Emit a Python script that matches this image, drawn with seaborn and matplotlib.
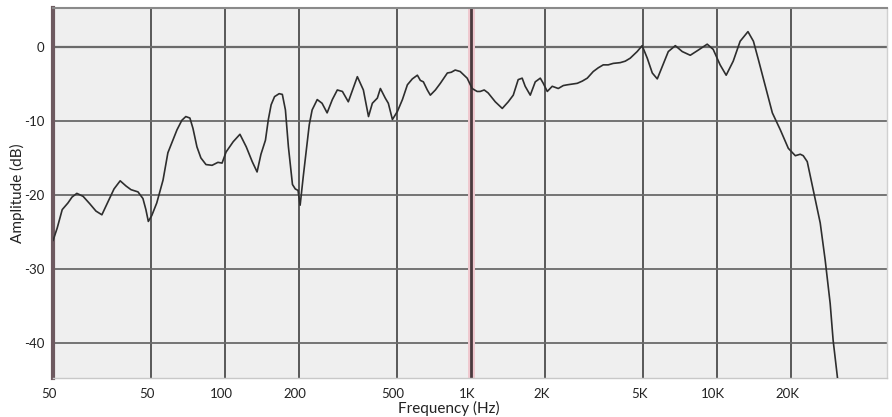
import numpy as np
import pandas as pd
import matplotlib
matplotlib.use("Agg")
import matplotlib.pyplot as plt
import matplotlib.transforms as mtransforms
import seaborn as sns

# Measured frequency response: frequency (Hz) and amplitude (dB)
freq_hz = [
    20.0, 20.8, 21.8, 23.0, 23.9, 25.0, 26.5, 28.2, 29.9, 31.6, 33.4, 35.4,
    37.5, 39.6, 41.5, 44.3, 46.4, 47.7, 48.8, 50.4, 52.8, 56.0, 58.6, 61.4,
    63.8, 66.8, 69.3, 72.0, 74.1, 76.9, 79.8, 83.7, 88.6, 93.6, 97.3, 101,
    108, 115, 122, 129, 135, 140, 146, 150, 154, 159, 166, 171, 176, 181,
    188, 193, 198, 202, 208, 214, 220, 226, 237, 248, 260, 273, 286, 300,
    317, 345, 365, 383, 397, 416, 428, 448, 461, 479, 502, 526, 551, 577,
    605, 622, 640, 664, 683, 716, 750, 801, 831, 862, 903, 964, 1010, 1058,
    1089, 1131, 1173, 1254, 1339, 1416, 1484, 1554, 1613, 1659, 1740, 1823,
    1911, 1965, 2040, 2137, 2261, 2370, 2460, 2578, 2700, 2830, 2966, 3137,
    3286, 3444, 3608, 3781, 4036, 4230, 4431, 4730, 4957, 5200, 5450, 5710,
    5985, 6330, 6760, 7215, 7775, 8380, 9110, 9635, 10280, 10880, 11620,
    12400, 13340, 14040, 14710, 15700, 16760, 18060, 19460, 20780, 21760,
    22380, 23230, 24570, 26230, 27470, 28790, 29600, 31010,
]
amplitude_db = [
    -26.2, -24.5, -22.0, -21.1, -20.3, -19.8, -20.2, -21.2, -22.2, -22.7,
    -21.0, -19.2, -18.1, -18.8, -19.3, -19.6, -20.5, -22.0, -23.6, -22.8,
    -21.1, -18.0, -14.3, -12.6, -11.2, -9.9, -9.4, -9.6, -11.0, -13.5,
    -15.0, -15.9, -16.0, -15.6, -15.7, -14.2, -12.8, -11.8, -13.5, -15.5,
    -16.9, -14.5, -12.6, -9.8, -7.8, -6.7, -6.3, -6.4, -8.5, -13.5,
    -18.6, -19.2, -19.4, -21.4, -17.5, -14.0, -10.5, -8.5, -7.1, -7.6,
    -8.9, -7.1, -5.8, -6.0, -7.4, -4.0, -5.8, -9.4, -7.6, -6.9,
    -5.6, -6.9, -7.6, -9.8, -8.7, -7.1, -5.1, -4.3, -3.8, -4.5,
    -4.7, -5.8, -6.5, -5.8, -4.9, -3.5, -3.4, -3.1, -3.3, -4.2,
    -5.6, -6.0, -6.0, -5.8, -6.2, -7.4, -8.3, -7.4, -6.5, -4.4,
    -4.2, -5.3, -6.5, -4.7, -4.2, -4.9, -6.0, -5.3, -5.6, -5.2,
    -5.1, -5.0, -4.9, -4.6, -4.2, -3.3, -2.8, -2.4, -2.4, -2.2,
    -2.1, -1.9, -1.5, -0.6, 0.2, -1.5, -3.5, -4.3, -2.6, -0.6,
    0.2, -0.6, -1.1, -0.4, 0.4, -0.3, -2.4, -3.8, -1.9, 0.8,
    2.1, 0.8, -1.7, -5.3, -8.9, -11.2, -13.7, -14.7, -14.5, -14.7,
    -15.5, -19.3, -23.8, -28.8, -34.7, -39.7, -45.5,
]

x_ticks = [20, 50, 100, 200, 500, 1000, 2000, 5000, 10000, 20000]
x_tick_labels = ["50", "50", "100", "200", "500", "1K", "2K", "5K", "10K", "20K"]
y_ticks = [0, -10, -20, -30, -40]
y_tick_labels = ["0", "-10", "-20", "-30", "-40"]

sns.set_theme(style="white")
plt.rcParams["font.family"] = ["Lato", "DejaVu Sans"]

df = pd.DataFrame({"Frequency (Hz)": freq_hz, "Amplitude (dB)": amplitude_db})

fig = plt.figure(figsize=(8.92, 4.17), dpi=100)
ax = fig.add_axes([53 / 892, 1 - 378 / 417, 834 / 892, 370 / 417])
ax.set_facecolor("#efefef")

ax.set_xscale("log")
ax.set_xlim(20, 49000)
ax.set_ylim(-44.8, 5.3)

# grid
for f in x_ticks[1:]:
    ax.axvline(f, color="#4d4d4d", lw=1.3, zorder=1)
for d in y_ticks:
    ax.axhline(d, color="#6a6a6a", lw=1.6 if d == 0 else 1.3, zorder=1)

# emphasised 1 kHz reference line
ax.axvline(1000, color="#f0c8cf", lw=5, zorder=1.5)
ax.axvline(1000, color="#4a3a3e", lw=2.0, zorder=1.6)

sns.lineplot(data=df, x="Frequency (Hz)", y="Amplitude (dB)", ax=ax,
             color="#2e2e2e", lw=1.2, zorder=3, sort=False)

ax.set_xticks(x_ticks)
ax.set_xticklabels(x_tick_labels)
ax.xaxis.set_minor_locator(matplotlib.ticker.NullLocator())
ax.set_yticks(y_ticks)
ax.set_yticklabels(y_tick_labels)
ax.tick_params(axis="both", length=0, labelsize=9.5, colors="#222222")
ax.tick_params(axis="x", pad=7)
ax.tick_params(axis="y", pad=6)

shift = mtransforms.ScaledTranslation(-4 / 100, 0, fig.dpi_scale_trans)
for lab in ax.get_xticklabels():
    lab.set_transform(lab.get_transform() + shift)

ax.set_xlabel("Frequency (Hz)", fontsize=11, color="#222222")
ax.set_ylabel("Amplitude (dB)", fontsize=11, color="#222222")
ax.xaxis.set_label_coords(0.475, -0.062)
ax.yaxis.set_label_coords(-0.034, 0.5)

for side, sp in ax.spines.items():
    sp.set_visible(True)
ax.spines["left"].set_color("#6e5a60")
ax.spines["left"].set_linewidth(3)
ax.spines["top"].set_color("#8a8a8a")
ax.spines["top"].set_linewidth(1.5)
ax.spines["bottom"].set_color("#c8c8c8")
ax.spines["bottom"].set_linewidth(1.0)
ax.spines["right"].set_color("#d0d0d0")
ax.spines["right"].set_linewidth(1.0)

fig.savefig("out.png", dpi=100, facecolor="white")
